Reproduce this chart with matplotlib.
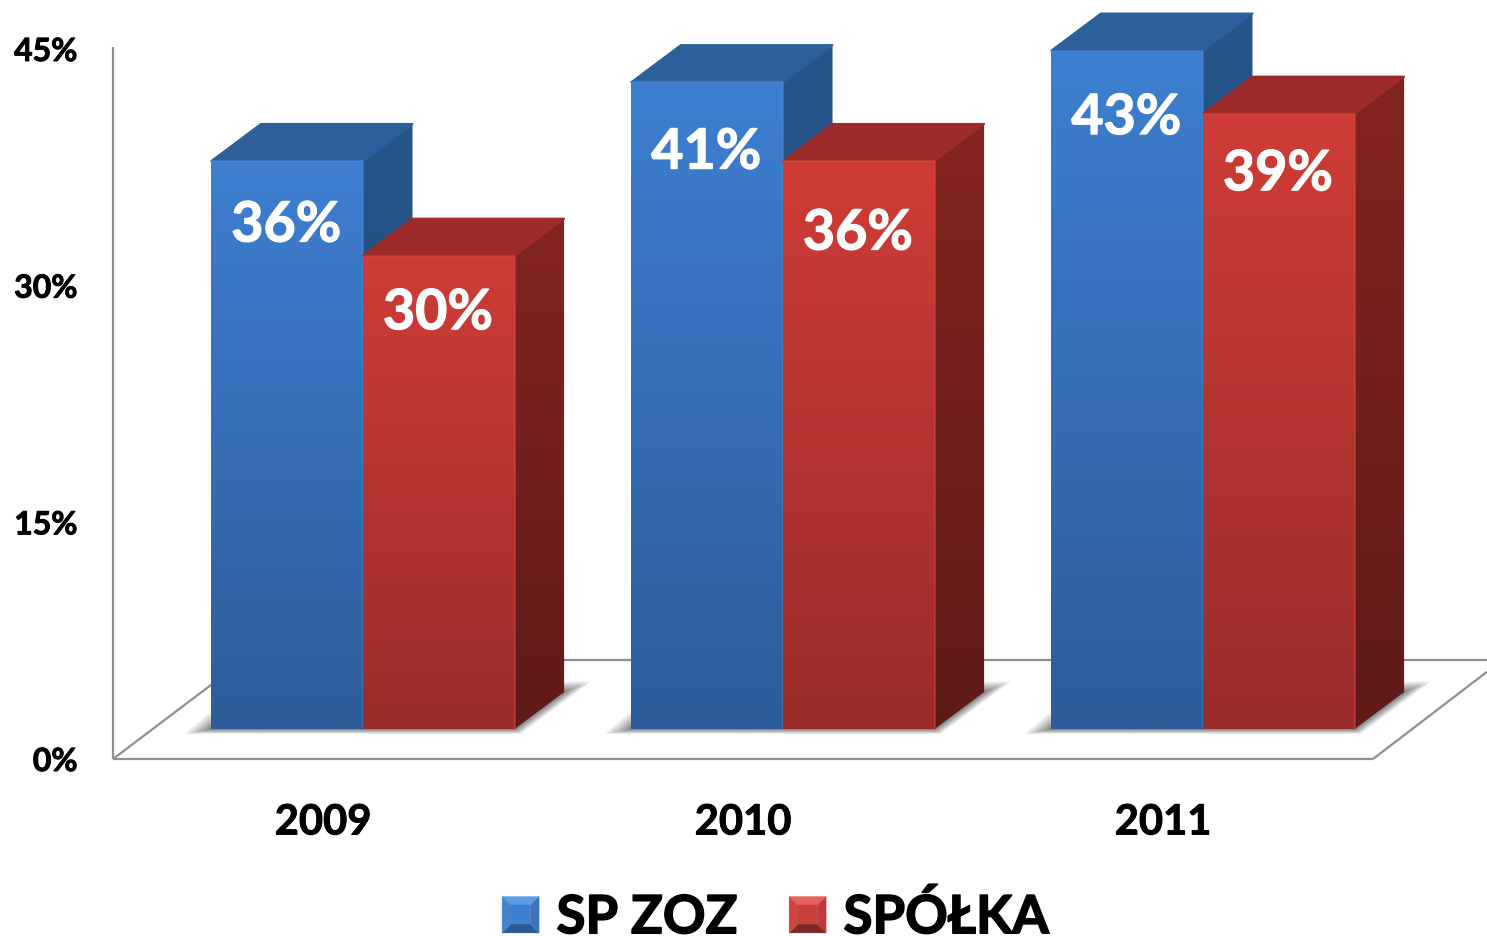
import numpy as np
import matplotlib
matplotlib.use("Agg")
import matplotlib.pyplot as plt
import matplotlib.patheffects as pe
from matplotlib.patches import Polygon, Patch
from matplotlib.legend_handler import HandlerBase

years = ["2009", "2010", "2011"]
series_names = ["SP ZOZ", "SPÓŁKA"]
sp_zoz = [36, 41, 43]
spolka = [30, 36, 39]
y_ticks = [0, 15, 30, 45]
y_labels = ["0%", "15%", "30%", "45%"]

# layout (label drop below the bar top, px), not data
drop_zoz = [61, 67, 64]
drop_spolka = [54, 69, 57]

W, H = 1487, 936
plt.rcParams["font.family"] = ["Lato", "DejaVu Sans"]
plt.rcParams["font.weight"] = "bold"
fig = plt.figure(figsize=(W / 100, H / 100), dpi=100, facecolor="white")
L, R, T, B = 113, 1487, 49, 759
ax = fig.add_axes([L / W, 1 - B / H, (R - L) / W, (B - T) / H])
ax.set_xlim(-0.5, (R - L) / 420 - 0.5)
ax.set_ylim(0, 45)
ax.set_autoscale_on(False)
ax.patch.set_visible(False)

PX = 1 / 420
PY = 45 / (B - T)
DX, DY = 49.5 * PX, 37 * PY
LIFT = 30 * PY
BW = 151.6 * PX
SHIFT = 40 * PX
GREY = "#8f8f8f"

for s in ["top", "right", "bottom", "left"]:
    ax.spines[s].set_visible(False)
ax.set_yticks(y_ticks, y_labels, fontsize=23, fontweight="bold")
ax.set_xticks(range(len(years)), years, fontsize=30, fontweight="bold")
ax.tick_params(axis="y", length=0, pad=25.5)
ax.tick_params(axis="x", length=0, pad=32)
thick = [pe.withStroke(linewidth=0.7, foreground="black")]
for t in ax.get_xticklabels() + ax.get_yticklabels():
    t.set_path_effects(thick)

# floor
x0, x1 = -0.5, 2.5
xr = ax.get_xlim()[1]
kw = dict(color=GREY, lw=1.6, zorder=1, clip_on=False, solid_capstyle="butt")
ax.plot([x0, x0], [0, 45 + 2 * PY], **kw)
ax.plot([x0, x1], [0, 0], **kw)
depth = 99 * PY
ax.plot([x0, x0 + 131 * PX], [0, depth], **kw)
ax.plot([x1, xr], [0, (xr - x1) / PX * 0.765 * PY], **kw)
ax.plot([x0 + 131 * PX, xr], [depth, depth], **kw)


def gradient(pts, c_top, c_bot, z):
    pts = np.array(pts)
    rgb = np.linspace(matplotlib.colors.to_rgb(c_top), matplotlib.colors.to_rgb(c_bot), 256)[:, None, :]
    ext = (pts[:, 0].min(), pts[:, 0].max(), pts[:, 1].min(), pts[:, 1].max())
    im = ax.imshow(rgb, extent=ext, origin="upper", aspect="auto", interpolation="bilinear", zorder=z)
    im.set_clip_box(fig.bbox)
    im.set_clip_path(Polygon(pts, closed=True, transform=ax.transData))


def shadow(xa, xb):
    base = np.array([
        [xa, LIFT], [xb, LIFT],
        [xb + DX, LIFT + DY], [xa + DX, LIFT + DY],
    ])
    grow = np.array([
        [-27 * PX, -5 * PY], [6 * PX, -5 * PY],
        [28 * PX, 11 * PY], [-25 * PX, 3 * PY],
    ])
    for e in np.linspace(1, 0, 20) ** 1.3:
        ax.add_patch(Polygon(base + grow * e, closed=True, fc="#2a2a2a", ec="none",
                             alpha=0.045, zorder=1.5, clip_on=False))


def bar(xl, v, front, side, top, edge, z):
    xr_ = xl + BW
    y0, y1 = LIFT, LIFT + v
    gradient([[xl, y0], [xr_, y0], [xr_, y1], [xl, y1]], front[0], front[1], z + 0.2)
    gradient([[xr_, y0], [xr_ + DX, y0 + DY], [xr_ + DX, y1 + DY], [xr_, y1]], side[0], side[1], z)
    ax.add_patch(Polygon([[xl, y1], [xr_, y1], [xr_ + DX, y1 + DY], [xl + DX, y1 + DY]],
                         closed=True, fc=top, ec=top, lw=1.5, joinstyle="round",
                         zorder=z + 0.1, clip_on=False))
    ax.plot([xl, xr_, xr_], [y1, y1, y0], color=edge, lw=1.2, zorder=z + 0.3, clip_on=False, alpha=0.55)


BLUE = (("#3e7fd1", "#2d5c98"), ("#27558a", "#214a78"), "#2d5f9a", "#4a8ad8")
RED = (("#cf3c37", "#9a2c2a"), ("#842520", "#5f1a18"), "#9c2b2a", "#d84a44")

for i in range(len(years)):
    xa = i + SHIFT - BW
    shadow(xa, xa + 2 * BW)
white = [pe.withStroke(linewidth=0.9, foreground="white")]
for i in range(len(years)):
    xa = i + SHIFT - BW
    bar(xa, sp_zoz[i], *BLUE, 3 + i)
    bar(xa + BW, spolka[i], *RED, 3.5 + i)
    ax.text(xa + BW / 2 - 1 * PX, LIFT + sp_zoz[i] - (drop_zoz[i] + 3.5) * PY, f"{sp_zoz[i]}%", color="white",
            fontsize=40, fontweight="bold", ha="center", va="center", zorder=10, path_effects=white)
    ax.text(xa + 1.5 * BW - 1 * PX, LIFT + spolka[i] - (drop_spolka[i] + 3.5) * PY, f"{spolka[i]}%", color="white",
            fontsize=40, fontweight="bold", ha="center", va="center", zorder=10, path_effects=white)


class Bevel(HandlerBase):
    def __init__(self, cols):
        super().__init__()
        self.cols = cols

    def create_artists(self, legend, orig, xd, yd, w, h, fs, trans):
        x, y = -xd, -yd
        s = 0.24 * w
        c = self.cols
        o = [(x, y), (x + w, y), (x + w, y + h), (x, y + h)]
        n = [(x + s, y + s), (x + w - s, y + s), (x + w - s, y + h - s), (x + s, y + h - s)]
        faces = [
            ([o[3], o[2], n[2], n[3]], c[0]),
            ([o[0], o[1], n[1], n[0]], c[1]),
            ([o[0], n[0], n[3], o[3]], c[2]),
            ([o[1], n[1], n[2], o[2]], c[3]),
            (n, c[4]),
        ]
        return [Polygon(p, closed=True, fc=col, ec=col, lw=0.3, transform=trans) for p, col in faces]


handles = [Patch(label=series_names[0]), Patch(label=series_names[1])]
FS = 38
leg = ax.legend(
    handles=handles, ncol=2, loc="center", bbox_to_anchor=(775.5 / W, 1 - 917 / H),
    bbox_transform=fig.transFigure, frameon=False, fontsize=FS,
    handlelength=37 / (FS * 100 / 72), handleheight=36 / (FS * 100 / 72),
    handletextpad=0.33, columnspacing=0.98, borderpad=0, labelspacing=0,
    handler_map={
        handles[0]: Bevel(["#5a9ce6", "#2c5a94", "#4583cd", "#3b75bd", "#3f7fd0"]),
        handles[1]: Bevel(["#e8625c", "#7a2a28", "#cf4640", "#bb3c38", "#c83f3b"]),
    },
)
for t in leg.get_texts():
    t.set_fontweight("bold")
    t.set_path_effects([pe.withStroke(linewidth=1.1, foreground="black")])

fig.savefig("out.png", dpi=100, facecolor="white")
